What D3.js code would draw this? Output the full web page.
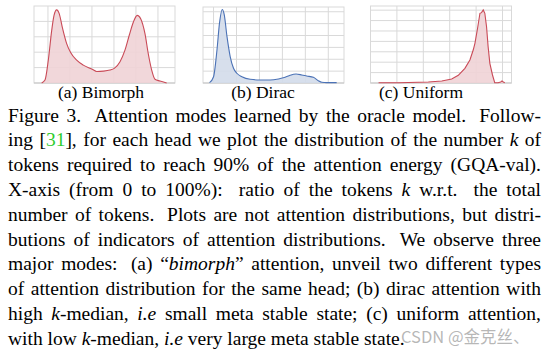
<!DOCTYPE html>
<html>
<head>
<meta charset="utf-8">
<script src="https://cdn.jsdelivr.net/npm/d3@7"></script>
<style>
  body { margin: 0; background: #fff; }
  svg { display: block; }
</style>
</head>
<body>
<svg id="fig" width="548" height="354"></svg>
<script>
// --- data ---
// (a) bimorph: ratio k/N vs density
const bimorphX = [-0.057, -0.027, 0.003, 0.034, 0.055, 0.079, 0.103, 0.130, 0.170, 0.206, 0.261, 0.321, 0.406, 0.443, 0.503, 0.564, 0.603, 0.655, 0.700, 0.739, 0.776, 0.812, 0.843, 0.882, 0.912, 0.943, 0.973, 1.018, 1.079];
const bimorphY = [0, 0.19, 1.48, 3.42, 4.39, 4.75, 4.49, 3.63, 2.56, 1.98, 1.48, 1.16, 0.88, 0.75, 0.77, 0.84, 0.95, 1.38, 2.13, 3.10, 3.95, 4.39, 4.17, 3.20, 1.90, 0.84, 0.24, 0.13, 0];

// (b) dirac
const diracX = [-0.035, 0.000, 0.030, 0.052, 0.076, 0.093, 0.117, 0.145, 0.174, 0.203, 0.247, 0.319, 0.406, 0.493, 0.566, 0.624, 0.667, 0.719, 0.769, 0.812, 0.870, 0.913, 0.943, 0.986, 1.073];
const diracY = [0.03, 0.53, 2.80, 5.06, 6.19, 5.76, 3.92, 2.23, 1.24, 0.82, 0.53, 0.31, 0.25, 0.25, 0.34, 0.48, 0.65, 0.76, 0.68, 0.59, 0.48, 0.19, 0.06, 0.03, 0.03];

// (c) uniform
const uniformX = [0.061, 0.212, 0.438, 0.540, 0.615, 0.665, 0.715, 0.753, 0.778, 0.791, 0.811, 0.829, 0.841, 0.854, 0.866, 0.879, 0.891, 0.904, 0.924, 0.941, 0.966, 0.986, 0.996, 1.006, 1.017];
const uniformY = [0.03, 0.03, 0.10, 0.19, 0.38, 0.74, 1.41, 2.21, 3.17, 3.81, 5.26, 6.70, 6.76, 7.02, 6.70, 5.41, 3.49, 1.89, 0.77, 0.03, 0.03, 0.10, 0.19, 0.10, 0.03];

const subLabels = ["(a) Bimorph", "(b) Dirac", "(c) Uniform"];
const xTicks = [0, 0.2, 0.4, 0.6, 0.8, 1.0];

// caption lines; *..* italic, #..# citation colour
const captionLines = [
  "Figure 3. Attention modes learned by the oracle model. Follow-",
  "ing [#31#], for each head we plot the distribution of the number *k* of",
  "tokens required to reach 90% of the attention energy (GQA-val).",
  "X-axis (from 0 to 100%): ratio of the tokens *k* w.r.t. the total",
  "number of tokens. Plots are not attention distributions, but distri-",
  "butions of indicators of attention distributions. We observe three",
  "major modes: (a) “*bimorph*” attention, unveil two different types",
  "of attention distribution for the same head; (b) dirac attention with",
  "high *k*-median, *i.e* small meta stable state; (c) uniform attention,",
  "with low *k*-median, *i.e* very large meta stable state."
];

const serif = "'Liberation Serif', 'Times New Roman', serif";
const svg = d3.select("#fig");

// panel layout
const panels = [
  { x: bimorphX, y: bimorphY, xDom: [-0.127, 1.155], left: 34, right: 175, top: 6, yMax: 5.0, yTicks: [1, 2, 3, 4],
    stroke: "#c94a57", fill: "#f0d3d6", curve: d3.curveMonotoneX, labelX: 101 },
  { x: diracX, y: diracY, xDom: [-0.092, 1.137], left: 203, right: 344, top: 7, yMax: 6.4, yTicks: [1, 2, 3, 4, 5, 6],
    stroke: "#4b72b6", fill: "#d3dbea", curve: d3.curveMonotoneX, labelX: 263 },
  { x: uniformX, y: uniformY, xDom: [0, 1.068], left: 370.5, right: 511.5, top: 6, yMax: 7.4, yTicks: [1, 2, 3, 4, 5, 6, 7],
    stroke: "#c94a57", fill: "#f0d3d6", curve: d3.curveLinear, labelX: 421 }
];
const bottom = 83;

panels.forEach((p, i) => {
  const x = d3.scaleLinear().domain(p.xDom).range([p.left, p.right]);
  const y = d3.scaleLinear().domain([0, p.yMax]).range([bottom, p.top]);
  const g = svg.append("g");

  // grid
  g.selectAll(".vg")
    .data(xTicks.filter(t => x(t) > p.left + 1))
    .enter().append("line")
      .attr("x1", d => x(d)).attr("x2", d => x(d))
      .attr("y1", p.top).attr("y2", bottom)
      .attr("stroke", "#d9d9d9").attr("stroke-width", 1);
  g.selectAll(".hg")
    .data(p.yTicks)
    .enter().append("line")
      .attr("x1", p.left).attr("x2", p.right)
      .attr("y1", d => y(d)).attr("y2", d => y(d))
      .attr("stroke", "#d9d9d9").attr("stroke-width", 1);
  g.append("rect")
    .attr("x", p.left).attr("y", p.top)
    .attr("width", p.right - p.left).attr("height", bottom - p.top)
    .attr("fill", "none").attr("stroke", "#d9d9d9");
  g.append("line")
    .attr("x1", p.left).attr("x2", p.right)
    .attr("y1", bottom).attr("y2", bottom)
    .attr("stroke", "#c4c4c4");

  const pts = p.x.map((v, j) => [v, p.y[j]]);
  const area = d3.area().x(d => x(d[0])).y0(bottom).y1(d => y(d[1])).curve(p.curve);
  const line = d3.line().x(d => x(d[0])).y(d => y(d[1])).curve(p.curve);

  g.append("path").attr("d", area(pts)).attr("fill", p.fill).attr("fill-opacity", 0.9);
  g.append("path").attr("d", line(pts)).attr("fill", "none")
    .attr("stroke", p.stroke).attr("stroke-width", 1.1);

  svg.append("text")
    .attr("x", p.labelX).attr("y", 97.5)
    .attr("text-anchor", "middle")
    .style("font-family", serif)
    .style("font-size", "17.5px")
    .attr("fill", "#000")
    .text(subLabels[i]);
});

// caption, justified line by line
const capLeft = 8, capWidth = 533, capSize = 19.5, firstBase = 121.5, lead = 24.8;

captionLines.forEach((ln, li) => {
  const words = ln.split(" ");
  const base = firstBase + li * lead;
  const nodes = words.map(w => {
    const t = svg.append("text")
      .style("font-family", serif)
      .style("font-size", capSize + "px")
      .attr("y", base)
      .attr("fill", "#000");
    w.split(/(\*[^*]+\*|#[^#]+#)/).filter(s => s.length).forEach(s => {
      const ts = t.append("tspan");
      if (s[0] === "*") ts.attr("font-style", "italic").text(s.slice(1, -1));
      else if (s[0] === "#") ts.attr("fill", "#2ecc2e").text(s.slice(1, -1));
      else ts.text(s);
    });
    return t;
  });
  const widths = nodes.map(n => n.node().getComputedTextLength());
  const space = capSize * 0.25;
  // sentence ends get a wider space, as TeX does
  const gaps = words.slice(0, -1).map(w => /[.:]$/.test(w) ? 1.6 : 1);
  let stretch = 0;
  if (li < captionLines.length - 1) {
    const natural = d3.sum(widths) + d3.sum(gaps) * space;
    stretch = (capWidth - natural) / d3.sum(gaps.map(g => g > 1 ? 2 : 1));
  }
  let cx = capLeft;
  nodes.forEach((n, k) => {
    n.attr("x", cx);
    if (k < gaps.length) cx += widths[k] + gaps[k] * space + stretch * (gaps[k] > 1 ? 2 : 1);
  });
});

// watermark
svg.append("text")
  .attr("x", 401).attr("y", 343)
  .style("font-family", "'Noto Sans CJK SC', 'Noto Sans', sans-serif")
  .style("font-size", "16.5px")
  .attr("fill", "#a0a0a0")
  .attr("fill-opacity", 0.75)
  .text("CSDN @金克丝、");
</script>
</body>
</html>
